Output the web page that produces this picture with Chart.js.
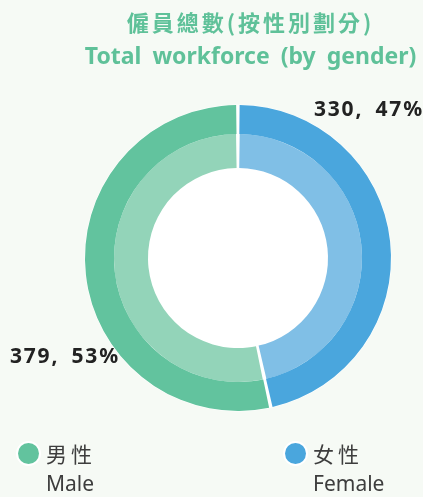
<!DOCTYPE html>
<html>
<head>
<meta charset="utf-8">
<script src="https://cdn.jsdelivr.net/npm/chart.js@4"></script>
<style>
html, body { margin: 0; padding: 0; background: #f6faf5; }
#wrap { position: relative; width: 423px; height: 497px; overflow: hidden; font-family: "Noto Sans", "Noto Sans CJK TC", sans-serif; }
#chart { position: absolute; left: 0; top: 0; }
.title { position: absolute; left: 0; width: 423px; text-align: center; color: #5fc199; white-space: nowrap; }
.t1 { top: 6px; left: 39px; font-family: "Noto Sans CJK TC", sans-serif; font-size: 22px; font-weight: 600; letter-spacing: 3px; line-height: 30px; }
.t2 { top: 40px; left: 39px; font-size: 23px; font-weight: bold; word-spacing: 5px; line-height: 30px; }
.val { position: absolute; font-size: 21px; font-weight: bold; color: #222; white-space: nowrap; letter-spacing: 1.8px; line-height: 26px; }
.leg { position: absolute; color: #3d3d3d; font-size: 21px; line-height: 30px; }
.leg .zh { font-family: "Noto Sans CJK TC", sans-serif; letter-spacing: 4px; }
.dot { position: absolute; width: 21px; height: 21px; border-radius: 50%; box-shadow: 0 0 0 2px #fff; }
</style>
</head>
<body>
<div id="wrap">
<canvas id="chart" width="423" height="497"></canvas>
<div class="title t1">僱員總數(按性別劃分)</div>
<div class="title t2">Total workforce (by gender)</div>
<div id="labels"></div>
<div id="legend"></div>
</div>
<script>
(function (){

// drawn clockwise from 12 o'clock: female first, then male
var categories = ['Female', 'Male'];
var categoriesZh = ['女性', '男性'];
var values = [330, 379];
var outerColors = ['#4aa6dd', '#62c39e'];
var innerColors = ['#80bfe6', '#93d4b9'];

var total = values.reduce(function (a, b) { return a + b; }, 0);

// white disc behind the rings, shows through the hole and the gaps
var whiteDisc = {
	id: 'whiteDisc',
	beforeDatasetsDraw: function (chart) {
		var arc = chart.getDatasetMeta(0).data[0];
		if (!arc) {
			return;
		}
		var ctx = chart.ctx;
		ctx.save();
		ctx.fillStyle = '#ffffff';
		ctx.beginPath();
		ctx.arc(arc.x, arc.y, arc.outerRadius + 1.5, 0, Math.PI * 2);
		ctx.fill();
		ctx.restore();
	}
};

new Chart(document.getElementById('chart'), {
	type: 'doughnut',
	data: {
		labels: categories,
		datasets: [{
			data: values,
			backgroundColor: outerColors,
			borderWidth: 0,
			spacing: 2,
			weight: 29
		}, {
			data: values,
			backgroundColor: innerColors,
			borderWidth: 0,
			spacing: 2,
			weight: 34
		}]
	},
	options: {
		responsive: false,
		animation: false,
		cutout: 89,
		layout: { padding: { left: 85, top: 105, right: 32, bottom: 86 } },
		plugins: {
			legend: { display: false },
			tooltip: { enabled: false }
		}
	},
	plugins: [whiteDisc]
});

// value labels
var labelPos = [{ left: 314, top: 95 }, { left: 10, top: 342 }];
var labelsBox = document.getElementById('labels');
for (var i = 0; i < values.length; i++) {
	var el = document.createElement('div');
	el.className = 'val';
	el.style.left = labelPos[i].left + 'px';
	el.style.top = labelPos[i].top + 'px';
	el.textContent = values[i] + ',\u2002' + Math.round(values[i] / total * 100) + '%';
	labelsBox.appendChild(el);
}

// legend: male first, then female
var legendOrder = [1, 0];
var legendX = [18, 285];
var legendBox = document.getElementById('legend');
for (var j = 0; j < legendOrder.length; j++) {
	var k = legendOrder[j];
	var dot = document.createElement('div');
	dot.className = 'dot';
	dot.style.left = legendX[j] + 'px';
	dot.style.top = '443px';
	dot.style.background = outerColors[k];
	legendBox.appendChild(dot);
	var item = document.createElement('div');
	item.className = 'leg';
	item.style.left = (legendX[j] + 28) + 'px';
	item.style.top = '438px';
	item.innerHTML = '<div class="zh">' + categoriesZh[k] + '</div><div>' + categories[k] + '</div>';
	legendBox.appendChild(item);
}

}());
</script>
</body>
</html>
